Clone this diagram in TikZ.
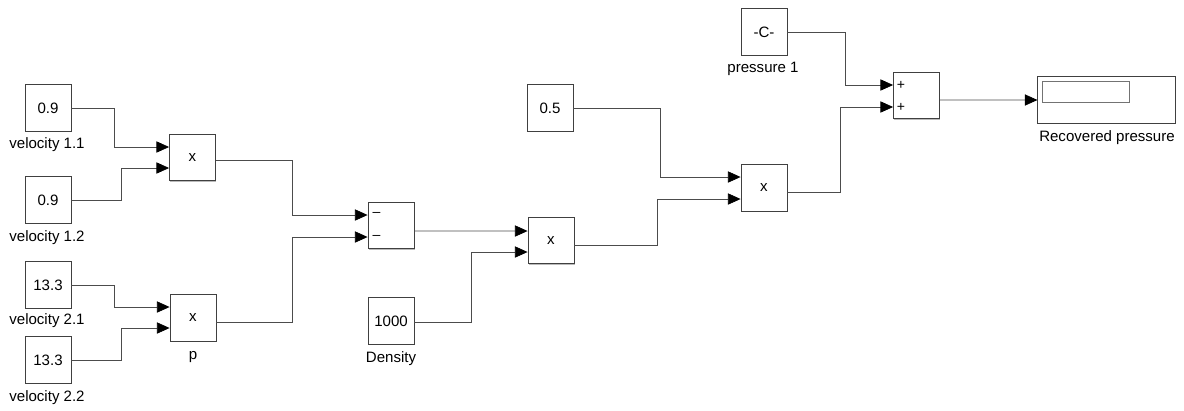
\documentclass[tikz,border=0pt]{standalone}
\usepackage{fontspec}
\setmainfont{Liberation Sans}
\usetikzlibrary{calc,arrows.meta,shadows}

\begin{document}
\begin{tikzpicture}[x=0.025cm,y=-0.025cm,
    font=\fontsize{10.7}{12}\selectfont,
    block/.style={draw=black!75, line width=0.6pt, fill=white, minimum width=1.15cm, minimum height=1.17cm, inner sep=0pt,
        drop shadow={shadow xshift=0.6pt, shadow yshift=-0.6pt, fill=black!45, opacity=0.6}},
    wire/.style={draw=black!70, line width=0.5pt, -{Triangle[length=9pt,width=8pt,black]}},
    lab/.style={anchor=base, inner sep=0pt},
    sign/.style={inner sep=0pt, font=\fontsize{10}{11}\selectfont}]
    \useasboundingbox (0,0) rectangle (1184,410);

    % Constants on the left
    \node[block] (c11) at (48,108) {0.9};
    \node[lab] (l11) at (47,148) {velocity 1.1};
    \node[block] (c12) at (48,200) {0.9};
    \node[lab] (l12) at (47,241) {velocity 1.2};
    \node[block] (c21) at (48,285) {13.3};
    \node[lab] (l21) at (47,324) {velocity 2.1};
    \node[block] (c22) at (48,360) {13.3};
    \node[lab] (l22) at (47,401) {velocity 2.2};

    % Products of the velocities
    \node[block] (prod1) at (192.5,157.5) {x};
    \node[block] (prod2) at (193,318) {x};
    \node[lab] (lp) at (193,359) {p};

    % Difference and density
    \node[block] (sum1) at (391,225.5) {};
    \node[sign] at ($(sum1.west)+(9,-11)$) {--};
    \node[sign] at ($(sum1.west)+(9,12)$) {--};
    \node[block] (dens) at (391,321) {1000};
    \node[lab] (ld) at (391,362) {Density};
    \node[block] (prod3) at (551,240.5) {x};

    % Half and pressure 1
    \node[block] (c05) at (550,108) {0.5};
    \node[block] (prod4) at (764,188) {x};
    \node[block] (cpress) at (764,32) {-C-};
    \node[lab] (lpr) at (763,72) {pressure 1};

    % Sum and display
    \node[block] (sum2) at (916.5,95.5) {};
    \node[sign] at ($(sum2.west)+(8,-10.5)$) {+};
    \node[sign] at ($(sum2.west)+(8,11.5)$) {+};
    \node[block, minimum width=3.43cm] (disp) at (1106.5,100) {};
    \draw[black!55, line width=0.5pt] ($(disp.north west)+(5,5)$) rectangle ++(87,21);
    \node[lab] (lrec) at (1107,141) {Recovered pressure};

    % Wires
    \draw[wire] (c11.east) -- ++(43,0) |- ($(prod1.west)+(0,-10.5)$);
    \draw[wire] (c12.east) -- ++(50,0) |- ($(prod1.west)+(0,10.5)$);
    \draw[wire] (c21.east) -- ++(43,0) |- ($(prod2.west)+(0,-11)$);
    \draw[wire] (c22.east) -- ++(50,0) |- ($(prod2.west)+(0,10)$);
    \draw[wire] ($(prod1.east)+(0,2.5)$) -- ++(76,0) |- ($(sum1.west)+(0,-10.5)$);
    \draw[wire] ($(prod2.east)+(0,4)$) -- ++(76,0) |- ($(sum1.west)+(0,11.5)$);
    \draw[wire] ($(sum1.east)+(0,5.5)$) -- ($(prod3.west)+(0,-9.5)$);
    \draw[wire] ($(dens.east)+(0,1)$) -- ++(57,0) |- ($(prod3.west)+(0,11.5)$);
    \draw[wire] (c05.east) -- ++(87,0) |- ($(prod4.west)+(0,-11)$);
    \draw[wire] ($(prod3.east)+(0,4.5)$) -- ++(83,0) |- ($(prod4.west)+(0,11)$);
    \draw[wire] (cpress.east) -- ++(58,0) |- ($(sum2.west)+(0,-10.5)$);
    \draw[wire] ($(prod4.east)+(0,4)$) -- ++(53,0) |- ($(sum2.west)+(0,11.5)$);
    \draw[wire] ($(sum2.east)+(0,4.5)$) -- (disp.west);
\end{tikzpicture}
\end{document}
